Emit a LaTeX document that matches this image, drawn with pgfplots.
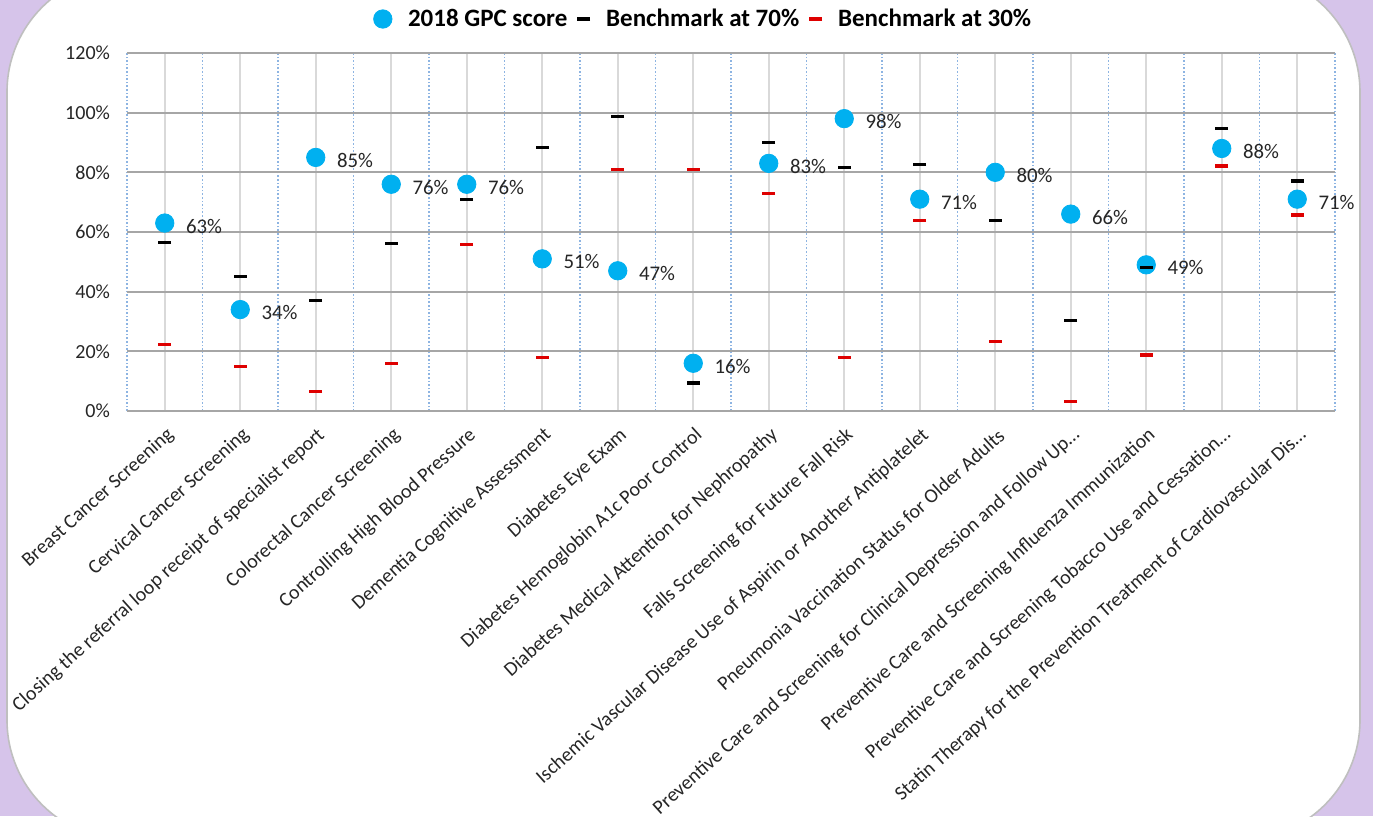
\documentclass[border=0pt]{standalone}
\usepackage{fontspec}
\setmainfont{Carlito}
\usepackage{pgfplots}
\pgfplotsset{compat=1.18}
\definecolor{lav}{RGB}{214,196,234}
\definecolor{gpc}{RGB}{0,176,240}
\definecolor{bred}{RGB}{222,0,0}
\definecolor{mgrid}{RGB}{166,166,166}
\definecolor{vgrid}{RGB}{217,217,217}
\definecolor{dgrid}{RGB}{141,180,226}
\begin{document}
\begin{tikzpicture}
\useasboundingbox (0,0) rectangle (686.5pt,408pt);
\clip (0,0) rectangle (686.5pt,408pt);
\fill[lav] (0,0) rectangle (686.5pt,408pt);
\fill[white,draw=black!25,line width=0.8pt,rounded corners=60pt] (3.5pt,-12pt) rectangle (680pt,422pt);
\begin{axis}[
  at={(63.5pt,202.5pt)}, anchor=south west,
  scale only axis, width=604pt, height=179pt,
  xmin=-0.5, xmax=15.5, ymin=0, ymax=120,
  clip=false,
  axis line style={draw=none},
  major tick length=0pt, minor tick length=0pt,
  ytick={0,20,...,120},
  yticklabel={\pgfmathprintnumber{\tick}\%},
  /pgf/number format/assume math mode=true,
  yticklabel style={font=\fontsize{10}{12}\selectfont, text=black!85, xshift=-5pt},
  xtick={0,1,2,3,4,5,6,7,8,9,10,11,12,13,14,15},
  minor xtick={-0.5,0.5,1.5,2.5,3.5,4.5,5.5,6.5,7.5,8.5,9.5,10.5,11.5,12.5,13.5,14.5,15.5},
  xticklabels={{Breast Cancer Screening},{Cervical Cancer Screening},{Closing the referral loop receipt of specialist report},{Colorectal Cancer Screening},{Controlling High Blood Pressure},{Dementia Cognitive Assessment},{Diabetes Eye Exam},{Diabetes Hemoglobin A1c Poor Control},{Diabetes Medical Attention for Nephropathy},{Falls Screening for Future Fall Risk},{Ischemic Vascular Disease Use of Aspirin or Another Antiplatelet},{Pneumonia Vaccination Status for Older Adults},{Preventive Care and Screening for Clinical Depression and Follow Up…},{Preventive Care and Screening Influenza Immunization},{Preventive Care and Screening Tobacco Use and Cessation…},{Statin Therapy for the Prevention Treatment of Cardiovascular Dis…}},
  xticklabel style={font=\fontsize{10}{12}\selectfont, text=black!85, inner sep=1pt, xshift=4pt, yshift=-10pt, rotate=42, anchor=east},
  xmajorgrids, ymajorgrids, xminorgrids,
  x grid style={vgrid, line width=0.8pt},
  y grid style={mgrid, line width=0.9pt},
  minor x grid style={dgrid, densely dotted, line width=0.6pt},
  legend style={at={(0.478,1.095)}, anchor=center, legend columns=-1, draw=none, fill=none,
    font=\bfseries\fontsize{12.5}{15}\selectfont,
    /tikz/every even column/.append style={column sep=3pt},
    /tikz/every odd column/.append style={column sep=6pt}},
  legend cell align=left,
]
\addplot[only marks, mark=*, mark size=4.6pt, mark options={fill=gpc, draw=gpc},
  point meta=y, nodes near coords={\pgfmathprintnumber{\pgfplotspointmeta}\%},
  every node near coord/.append style={anchor=west, inner sep=0pt, xshift=10.5pt, yshift=-1.5pt, font=\fontsize{10.4}{12}\selectfont, text=black!85}]
  coordinates {(0,63) (1,34) (2,85) (3,76) (4,76) (5,51) (6,47) (7,16) (8,83) (9,98) (10,71) (11,80) (12,66) (13,49) (14,88) (15,71)};
\addlegendentry{2018 GPC score}
\addplot[only marks, mark=-, mark size=3.2pt, mark options={draw=black, line width=1.6pt}]
  coordinates {(0,56.6) (1,45.2) (2,37.0) (3,56.2) (4,71.0) (5,88.2) (6,98.7) (7,9.4) (8,90.0) (9,81.6) (10,82.5) (11,63.8) (12,30.3) (13,48.1) (14,94.8) (15,77.1)};
\addlegendentry{Benchmark at 70\%}
\addplot[only marks, mark=-, mark size=3.2pt, mark options={draw=bred, line width=1.6pt}]
  coordinates {(0,22.2) (1,15.0) (2,6.5) (3,16.0) (4,55.7) (5,17.9) (6,81.0) (7,81.0) (8,72.9) (9,17.9) (10,63.8) (11,23.2) (12,3.1) (13,18.8) (14,82.1) (15,65.7)};
\addlegendentry{Benchmark at 30\%}
\end{axis}
\end{tikzpicture}
\end{document}
